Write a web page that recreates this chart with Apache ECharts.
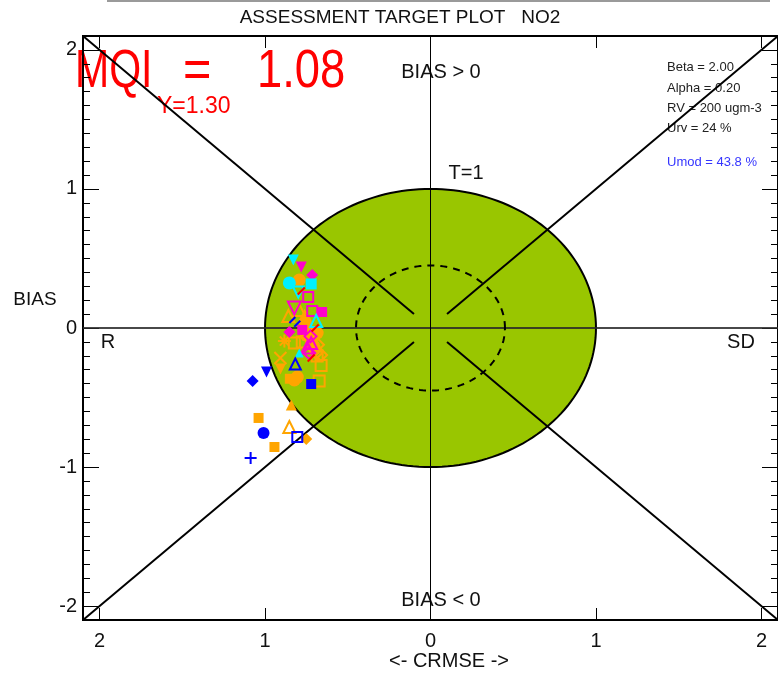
<!DOCTYPE html>
<html>
<head>
<meta charset="utf-8">
<script src="https://cdn.jsdelivr.net/npm/echarts@6/dist/echarts.min.js"></script>
<style>html,body{margin:0;padding:0;background:#fff}#c{width:778px;height:673px}</style>
</head>
<body>
<div id="c"></div>
<script>
// ---------- data ----------
const axisMin = -2.1, axisMax = 2.1;
const majorTicks = [-2, -1, 0, 1, 2];
const minorTicks = [-2.1,-2.0,-1.9,-1.8,-1.7,-1.6,-1.5,-1.4,-1.3,-1.2,-1.1,-1.0,-0.9,-0.8,-0.7,-0.6,-0.5,-0.4,-0.3,-0.2,-0.1,0,
  0.1,0.2,0.3,0.4,0.5,0.6,0.7,0.8,0.9,1.0,1.1,1.2,1.3,1.4,1.5,1.6,1.7,1.8,1.9,2.0,2.1];
// circles: [cx, cy, radius]
const targetCircle = [0, 0, 1];
const obsCircle = [0, 0, 0.45];
// diagonal segments
const diagUL = [[-2.1, 2.1], [-0.1, 0.1]];
const diagUR = [[2.1, 2.1], [0.1, 0.1]];
const diagLL = [[-2.1, -2.1], [-0.1, -0.1]];
const diagLR = [[2.1, -2.1], [0.1, -0.1]];
const hLine = [[-2.1, 0], [2.1, 0]];
const vLine = [[0, -2.1], [0, 2.1]];

// station points (CRMSE-side x, BIAS y)
const cyanTriDown     = [[-0.829, 0.489]];
const cyanCircle      = [[-0.853, 0.324]];
const cyanSquare      = [[-0.721, 0.317]];
const cyanTriDownOpen = [[-0.799, 0.259]];
const cyanTriOpen     = [[-0.691, 0.050]];
const cyanTri         = [[-0.793, -0.180]];

const magTriDown      = [[-0.781, 0.439]];
const magDiamond      = [[-0.715, 0.381], [-0.853, -0.029]];
const magSquareOpen   = [[-0.739, 0.223], [-0.715, 0.122]];
const magTriDownOpen  = [[-0.823, 0.144]];
const magSquare       = [[-0.655, 0.115], [-0.775, -0.014]];
const magTriOpen      = [[-0.721, -0.108], [-0.745, -0.140]];
const magDiamondOpen  = [[-0.733, -0.180], [-0.725, -0.060]];

const orgCircle       = [[-0.793, 0.345], [-0.757, 0.043], [-0.745, -0.010], [-0.721, -0.086], [-0.823, -0.374],
                         [-0.805, -0.353], [-0.685, -0.036], [-0.700, -0.150], [-0.751, -0.050]];
const orgTriOpen      = [[-0.793, 0.129], [-0.859, 0.086], [-0.853, -0.712], [-0.760, 0.080]];
const orgAsterisk     = [[-0.883, -0.094]];
const orgSquareOpen   = [[-0.823, -0.108], [-0.673, -0.381], [-0.685, -0.201], [-0.775, -0.100], [-0.661, -0.270]];
const orgCross        = [[-0.907, -0.216]];
const orgTriDown      = [[-0.907, -0.295]];
const orgTri          = [[-0.841, -0.554], [-0.745, -0.050]];
const orgSquare       = [[-1.039, -0.647], [-0.943, -0.856], [-0.850, -0.365]];
const orgDiamond      = [[-0.751, -0.799], [-0.705, -0.110]];
const orgDiamondOpen  = [[-0.661, -0.194], [-0.680, -0.120], [-0.691, -0.180]];

const blueTriDown     = [[-0.991, -0.317]];
const blueDiamond     = [[-1.075, -0.381]];
const blueCircle      = [[-1.009, -0.755]];
const blueSquareOpen  = [[-0.805, -0.784]];
const bluePlus        = [[-1.087, -0.935]];
const blueSquare      = [[-0.721, -0.403]];
const blueTriOpen     = [[-0.817, -0.259]];
const blueSmall       = [[-0.835, 0.058], [-0.805, 0.030]];

const redSmall        = [[-0.781, 0.266], [-0.697, 0.000], [-0.721, -0.216]];

// ---------- styling helpers ----------
const ORANGE = '#ffa500', MAG = '#ff00cc', CYAN = '#00f0ff', BLUE = '#0000ff', RED = '#ff0000';
const PLUS = 'path://M5,0L5,10M0,5L10,5';
const XMARK = 'path://M0,0L10,10M10,0L0,10';
const AST = 'path://M5,0L5,10M0,5L10,5M1.5,1.5L8.5,8.5M8.5,1.5L1.5,8.5';
const TICKMARK = 'path://M0,10L10,0';

function pts(data, color, symbol, opts) {
  opts = opts || {};
  const open = opts.open;
  return {
    type: 'scatter', data: data, symbol: symbol,
    symbolSize: (opts.size || 10) + 1,
    symbolRotate: opts.rotate || 0,
    z: 10, silent: true,
    itemStyle: open
      ? { color: 'rgba(0,0,0,0)', borderColor: color, borderWidth: 2, opacity: 1 }
      : { color: color, borderWidth: 0, opacity: 1 }
  };
}
function seg(data, color, width, z) {
  return { type: 'line', data: data, symbol: 'none', silent: true, z: z || 5,
    lineStyle: { color: color, width: width }, animation: false };
}
function circleSeries(c, fill, stroke, width, dash, z) {
  return {
    type: 'custom', data: [c], z: z, silent: true,
    renderItem: function (params, api) {
      const cx = api.value(0), cy = api.value(1), r = api.value(2);
      const points = [];
      for (let i = 0; i <= 180; i++) {
        const a = i / 180 * Math.PI * 2;
        points.push(api.coord([cx + r * Math.cos(a), cy + r * Math.sin(a)]));
      }
      return { type: 'polygon', shape: { points: points },
        style: { fill: fill, stroke: stroke, lineWidth: width, lineDash: dash } };
    }
  };
}

const FONT = 'Liberation Sans, Arial, sans-serif';
function txt(x, y, text, size, color, align, extra) {
  return Object.assign({
    type: 'text', x: x, y: y, silent: true,
    style: { text: text, fontSize: size, fontFamily: FONT, fill: color || '#111',
      textAlign: align || 'center', textVerticalAlign: 'middle',
      align: align || 'center', verticalAlign: 'middle' }
  }, extra || {});
}

const chart = echarts.init(document.getElementById('c'));
const baseX = { type: 'value', min: axisMin, max: axisMax, splitLine: { show: false } };
function axLine(show) { return { show: show, onZero: false, lineStyle: { color: '#000', width: 2 } }; }

chart.setOption({
  animation: false,
  grid: { left: 83, top: 36, width: 699, height: 584, show: true, borderColor: '#000', borderWidth: 2, backgroundColor: 'transparent' },
  xAxis: [
    Object.assign({}, baseX, { position: 'bottom',
      axisLine: axLine(true),
      axisTick: { show: true, inside: true, length: 12, customValues: majorTicks, lineStyle: { color: '#000', width: 1 } },
      axisLabel: { show: true, customValues: majorTicks, margin: 11, fontSize: 20, fontFamily: FONT, color: '#111',
        formatter: function (v) { return String(Math.abs(v)); } } }),
    Object.assign({}, baseX, { position: 'top',
      axisLine: axLine(true),
      axisTick: { show: true, inside: true, length: 12, customValues: majorTicks, lineStyle: { color: '#000', width: 1 } },
      axisLabel: { show: false } })
  ],
  yAxis: [
    Object.assign({}, baseX, { position: 'left',
      axisLine: axLine(true),
      axisTick: { show: true, inside: true, length: 16, customValues: majorTicks, lineStyle: { color: '#000', width: 1 } },
      axisLabel: { show: true, customValues: majorTicks, margin: 6, fontSize: 20, fontFamily: FONT, color: '#111' } }),
    Object.assign({}, baseX, { position: 'left',
      axisLine: axLine(false),
      axisTick: { show: true, inside: true, length: 7, customValues: minorTicks, lineStyle: { color: '#000', width: 1 } },
      axisLabel: { show: false } }),
    Object.assign({}, baseX, { position: 'right',
      axisLine: axLine(true),
      axisTick: { show: true, inside: true, length: 16, customValues: majorTicks, lineStyle: { color: '#000', width: 1 } },
      axisLabel: { show: false } }),
    Object.assign({}, baseX, { position: 'right',
      axisLine: axLine(false),
      axisTick: { show: true, inside: true, length: 7, customValues: minorTicks, lineStyle: { color: '#000', width: 1 } },
      axisLabel: { show: false } })
  ],
  series: [
    circleSeries(targetCircle, '#99c600', '#000', 2, null, 1),
    seg(hLine, 'rgba(40,40,40,0.85)', 2, 2),
    seg(vLine, '#000', 1, 2),
    circleSeries(obsCircle, 'rgba(0,0,0,0)', '#000', 2, [7, 6], 3),
    seg(diagUL, '#000', 2, 4), seg(diagUR, '#000', 2, 4), seg(diagLL, '#000', 2, 4), seg(diagLR, '#000', 2, 4),

    pts(orgCircle, ORANGE, 'circle', { size: 12 }),
    pts(orgTriOpen, ORANGE, 'triangle', { open: true, size: 11 }),
    pts(orgAsterisk, ORANGE, AST, { open: true, size: 12 }),
    pts(orgSquareOpen, ORANGE, 'rect', { open: true, size: 10 }),
    pts(orgCross, ORANGE, XMARK, { open: true, size: 11 }),
    pts(orgTriDown, ORANGE, 'triangle', { rotate: 180, size: 10 }),
    pts(orgTri, ORANGE, 'triangle', { size: 10 }),
    pts(orgSquare, ORANGE, 'rect', { size: 9 }),
    pts(orgDiamond, ORANGE, 'diamond', { size: 11 }),
    pts(orgDiamondOpen, ORANGE, 'diamond', { open: true, size: 11 }),

    pts(magTriDown, MAG, 'triangle', { rotate: 180, size: 10 }),
    pts(magDiamond, MAG, 'diamond', { size: 11 }),
    pts(magSquareOpen, MAG, 'rect', { open: true, size: 9 }),
    pts(magTriDownOpen, MAG, 'triangle', { open: true, rotate: 180, size: 12 }),
    pts(magSquare, MAG, 'rect', { size: 9 }),
    pts(magTriOpen, MAG, 'triangle', { open: true, size: 11 }),
    pts(magDiamondOpen, MAG, 'diamond', { open: true, size: 11 }),

    pts(cyanTriDown, CYAN, 'triangle', { rotate: 180, size: 10 }),
    pts(cyanCircle, CYAN, 'circle', { size: 12 }),
    pts(cyanSquare, CYAN, 'rect', { size: 10 }),
    pts(cyanTriDownOpen, CYAN, 'triangle', { open: true, rotate: 180, size: 10 }),
    pts(cyanTriOpen, CYAN, 'triangle', { open: true, size: 11 }),
    pts(cyanTri, CYAN, 'triangle', { size: 8 }),

    pts(blueTriDown, BLUE, 'triangle', { rotate: 180, size: 10 }),
    pts(blueDiamond, BLUE, 'diamond', { size: 11 }),
    pts(blueCircle, BLUE, 'circle', { size: 11 }),
    pts(blueSquareOpen, BLUE, 'rect', { open: true, size: 9 }),
    pts(bluePlus, BLUE, PLUS, { open: true, size: 11 }),
    pts(blueSquare, BLUE, 'rect', { size: 9 }),
    pts(blueTriOpen, BLUE, 'triangle', { open: true, size: 10 }),
    pts(blueSmall, BLUE, TICKMARK, { open: true, size: 5 }),

    pts(redSmall, RED, TICKMARK, { open: true, size: 6 })
  ],
  graphic: [
    { type: 'line', silent: true, shape: { x1: 107, y1: 1, x2: 770, y2: 1 }, style: { stroke: '#9a9a9a', lineWidth: 2 } },
    txt(400, 18, 'ASSESSMENT TARGET PLOT   NO2', 19, '#111'),
    txt(75, 72, 'MQI', 54, RED, 'left', { scaleX: 0.76 }),
    txt(183, 72, '=', 54, RED, 'left', { scaleX: 0.9 }),
    txt(257, 72, '1.08', 54, RED, 'left', { scaleX: 0.84 }),
    txt(157, 107, 'Y=1.30', 23, RED, 'left'),
    txt(441, 72, 'BIAS > 0', 20, '#111'),
    txt(466, 173, 'T=1', 20, '#111'),
    txt(441, 600, 'BIAS < 0', 20, '#111'),
    txt(108, 342, 'R', 20, '#111'),
    txt(741, 342, 'SD', 20, '#111'),
    txt(35, 300, 'BIAS', 19, '#111'),
    txt(449, 661, '<- CRMSE ->', 20, '#111'),
    txt(667, 67, 'Beta = 2.00', 13, '#222', 'left'),
    txt(667, 88, 'Alpha = 0.20', 13, '#222', 'left'),
    txt(667, 108, 'RV = 200 ugm-3', 13, '#222', 'left'),
    txt(667, 128, 'Urv = 24 %', 13, '#222', 'left'),
    txt(667, 162, 'Umod = 43.8 %', 13, '#3535ff', 'left')
  ]
});
</script>
</body>
</html>
